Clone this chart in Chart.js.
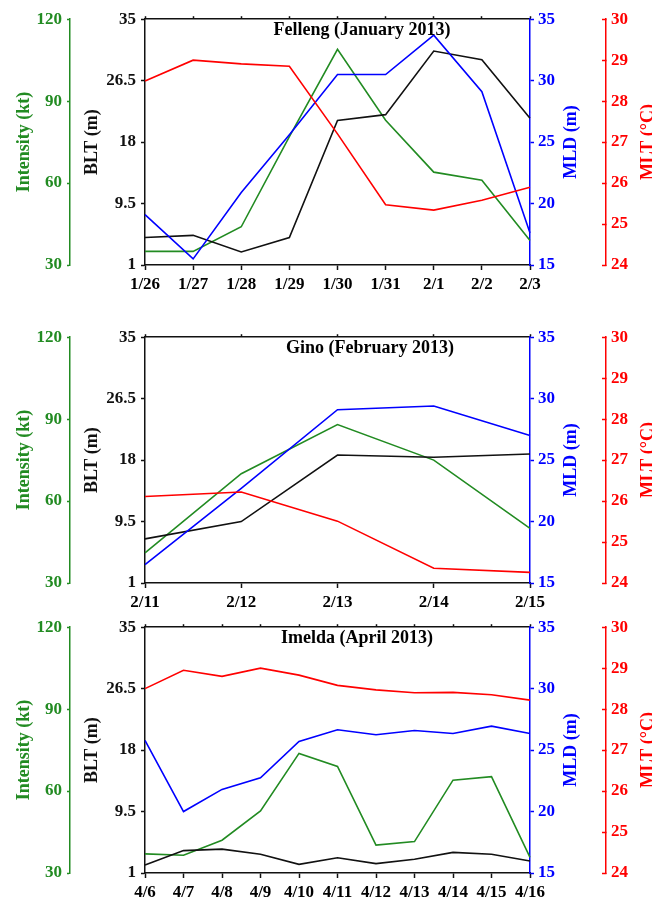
<!DOCTYPE html>
<html>
<head>
<meta charset="utf-8">
<script src="https://cdn.jsdelivr.net/npm/chart.js@4.4.1/dist/chart.umd.min.js"></script>
<style>
  html, body { margin: 0; padding: 0; background: #fff; width: 652px; height: 904px; overflow: hidden; }
  canvas { position: absolute; left: 0; }
</style>
</head>
<body>
<canvas id="felleng" width="652" height="300" style="top:0px"></canvas>
<canvas id="gino" width="652" height="290" style="top:318px"></canvas>
<canvas id="imelda" width="652" height="296" style="top:608px"></canvas>
<script>
// ---- Felleng, January 2013 ----
const fellengDates = ['1/26', '1/27', '1/28', '1/29', '1/30', '1/31', '2/1', '2/2', '2/3'];
const fellengIntensity = [35, 35, 44, 77, 109, 83, 64, 61, 39];
const fellengBLT = [4.8, 5.1, 2.8, 4.8, 21.0, 21.8, 30.6, 29.4, 21.3];
const fellengMLD = [19.1, 15.5, 20.9, 25.6, 30.5, 30.5, 33.7, 29.1, 17.6];
const fellengMLT = [28.49, 29.0, 28.91, 28.85, 27.2, 25.47, 25.34, 25.58, 25.9];

// ---- Gino, February 2013 ----
const ginoDates = ['2/11', '2/12', '2/13', '2/14', '2/15'];
const ginoIntensity = [41, 70, 88, 75, 50];
const ginoBLT = [7.1, 9.5, 18.7, 18.4, 18.85];
const ginoMLD = [16.5, 22.7, 29.1, 29.4, 27.0];
const ginoMLT = [26.11, 26.22, 25.51, 24.36, 24.26];

// ---- Imelda, April 2013 ----
const imeldaDates = ['4/6', '4/7', '4/8', '4/9', '4/10', '4/11', '4/12', '4/13', '4/14', '4/15', '4/16'];
const imeldaIntensity = [37, 36.5, 42, 52.7, 73.8, 69, 40.2, 41.5, 64, 65.3, 35.7];
const imeldaBLT = [2.1, 4.1, 4.3, 3.6, 2.2, 3.1, 2.3, 2.9, 3.85, 3.6, 2.65];
const imeldaMLD = [25.8, 20.0, 21.8, 22.75, 25.7, 26.65, 26.25, 26.6, 26.35, 26.95, 26.35];
const imeldaMLT = [28.5, 28.95, 28.8, 29.0, 28.83, 28.58, 28.47, 28.4, 28.41, 28.35, 28.22];

// ---- Axis tick labels ----
const intensityTicks = [30, 60, 90, 120];
const bltTicks = [1, 9.5, 18, 26.5, 35];
const mldTicks = [15, 20, 25, 30, 35];
const mltTicks = [24, 25, 26, 27, 28, 29, 30];

const GREEN = '#228B22';
const BLACK = '#111111';
const BLUE = '#0000FF';
const RED = '#FF0000';
const FONT = "'Liberation Serif', 'Times New Roman', serif";

Chart.defaults.font.family = FONT;
Chart.defaults.font.weight = 'bold';
Chart.defaults.font.size = 17;

// Rotated axis titles (reading upward) plus the storm caption inside the frame
const axisTitles = [
  { id: 'yInt', text: 'Intensity (kt)', color: GREEN, offset: 28.5 },
  { id: 'yBLT', text: 'BLT (m)', color: BLACK, offset: 27 },
  { id: 'yMLD', text: 'MLD (m)', color: BLUE, offset: 46 },
  { id: 'yMLT', text: 'MLT (\u00B0C)', color: RED, offset: 46.5 }
];

const panelText = {
  id: 'panelText',
  afterDraw(chart, args, opts) {
    const { ctx, chartArea, scales } = chart;
    const midY = (chartArea.top + chartArea.bottom) / 2;
    ctx.save();
    ctx.font = 'bold 18px ' + FONT;
    ctx.textBaseline = 'alphabetic';
    ctx.textAlign = 'center';
    ctx.fillStyle = '#000';
    ctx.fillText(opts.caption, opts.captionX, chartArea.top + 16);
    for (const t of axisTitles) {
      const s = scales[t.id];
      ctx.save();
      ctx.translate(s.left + t.offset, midY);
      ctx.rotate(-Math.PI / 2);
      ctx.fillStyle = t.color;
      ctx.fillText(t.text, 0, 0);
      ctx.restore();
    }
    ctx.restore();
  }
};

function yAxis(position, weight, color, ticks, tickLength, padding, width) {
  return {
    type: 'linear',
    position,
    weight,
    min: ticks[0],
    max: ticks[ticks.length - 1],
    afterBuildTicks: s => { s.ticks = ticks.map(v => ({ value: v })); },
    afterFit: s => { s.width = width; },
    grid: { drawOnChartArea: false, color, tickColor: color, tickLength, tickWidth: 1.5 },
    border: { color, width: 1.5 },
    ticks: { color, padding, callback: v => String(v) }
  };
}

function makePanel(canvasId, caption, captionX, dates, intensity, blt, mld, mlt, bottomHeight) {
  new Chart(document.getElementById(canvasId), {
    type: 'line',
    data: {
      labels: dates,
      datasets: [
        { label: 'MLT', data: mlt, yAxisID: 'yMLT', borderColor: RED },
        { label: 'MLD', data: mld, yAxisID: 'yMLD', borderColor: BLUE },
        { label: 'BLT', data: blt, yAxisID: 'yBLT', borderColor: BLACK },
        { label: 'Intensity', data: intensity, yAxisID: 'yInt', borderColor: GREEN }
      ]
    },
    options: {
      responsive: false,
      animation: false,
      devicePixelRatio: 1,
      layout: { padding: 0 },
      elements: {
        line: { borderWidth: 1.6, tension: 0, fill: false },
        point: { radius: 0, hoverRadius: 0 }
      },
      plugins: {
        legend: { display: false },
        tooltip: { enabled: false },
        panelText: { caption, captionX }
      },
      scales: {
        x: {
          type: 'category',
          position: 'bottom',
          afterFit: s => { s.height = bottomHeight; },
          grid: { drawOnChartArea: false, color: BLACK, tickLength: 5, tickWidth: 1.5 },
          border: { color: BLACK, width: 1.5 },
          ticks: { color: '#000', padding: 4, maxRotation: 0, autoSkip: false }
        },
        xTop: {
          type: 'category',
          position: 'top',
          afterFit: s => { s.height = 18; },
          grid: { drawOnChartArea: false, color: BLACK, tickLength: 3, tickWidth: 1.5 },
          border: { color: BLACK, width: 1.5 },
          ticks: { display: false }
        },
        yInt: yAxis('left', 1, GREEN, intensityTicks, 3, 5, 70),
        yBLT: yAxis('left', 0, BLACK, bltTicks, 4, 5, 75),
        yMLD: yAxis('right', 0, BLUE, mldTicks, 4, 4, 76),
        yMLT: yAxis('right', 1, RED, mltTicks, -4, 9, 46)
      }
    },
    plugins: [panelText]
  });
}

makePanel('felleng', 'Felleng (January 2013)', 362, fellengDates,
  fellengIntensity, fellengBLT, fellengMLD, fellengMLT, 35);
makePanel('gino', 'Gino (February 2013)', 370, ginoDates,
  ginoIntensity, ginoBLT, ginoMLD, ginoMLT, 25);
makePanel('imelda', 'Imelda (April 2013)', 357, imeldaDates,
  imeldaIntensity, imeldaBLT, imeldaMLD, imeldaMLT, 31);
</script>
</body>
</html>
